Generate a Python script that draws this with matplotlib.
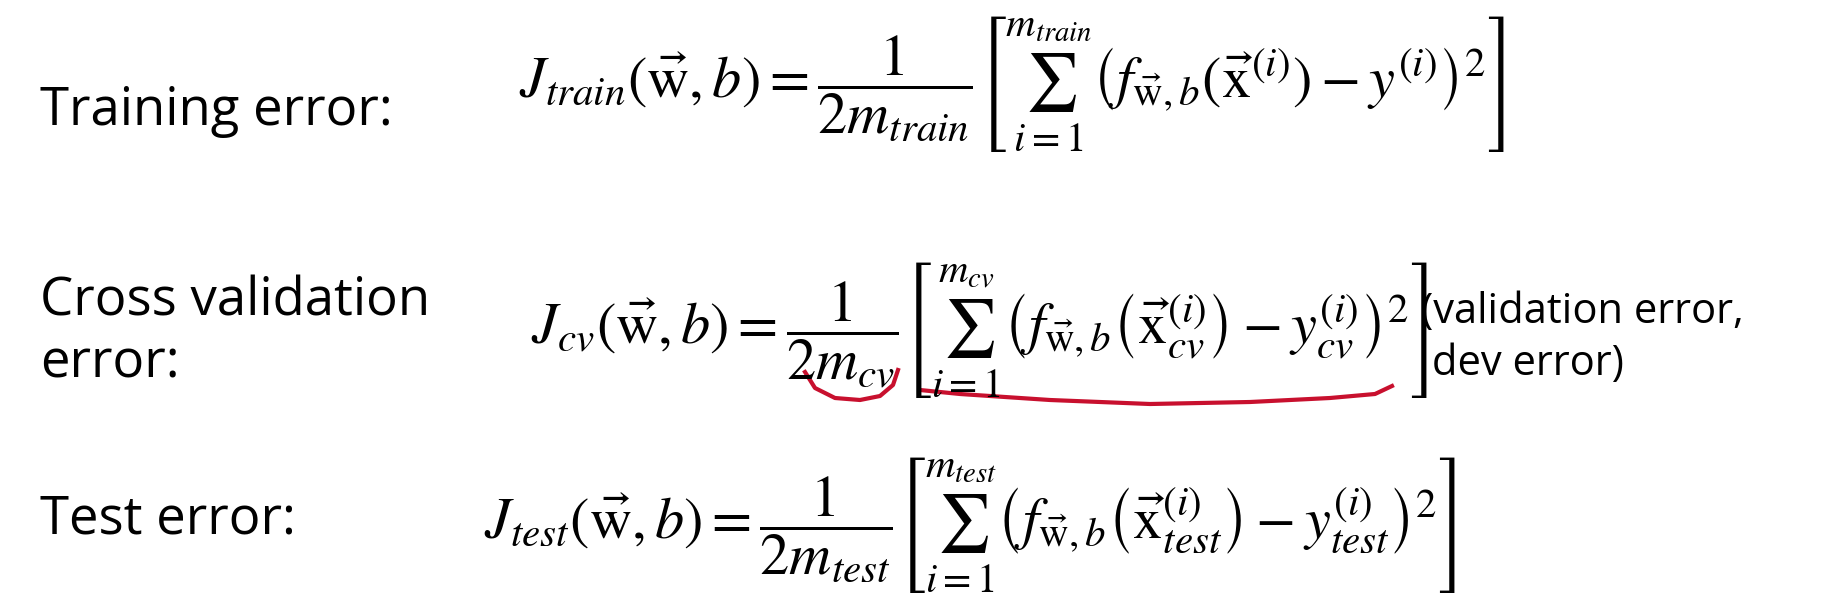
import matplotlib
matplotlib.use("Agg")
import matplotlib.pyplot as plt
import numpy as np

plt.rcParams['mathtext.fontset'] = 'stix'

labels = ["Training error:", "Cross validation\nerror:", "Test error:"]
formulas = [
    r"$J_{train}(\vec{\mathrm{w}},b)=\dfrac{1}{2m_{train}}\left[\sum_{i=1}^{m_{train}}\left(f_{\vec{\mathrm{w}},b}\left(\vec{\mathrm{x}}^{(i)}\right)-y^{(i)}\right)^2\right]$",
    r"$J_{cv}(\vec{\mathrm{w}},b)=\dfrac{1}{2m_{cv}}\left[\sum_{i=1}^{m_{cv}}\left(f_{\vec{\mathrm{w}},b}\left(\vec{\mathrm{x}}_{cv}^{(i)}\right)-y_{cv}^{(i)}\right)^2\right]$",
    r"$J_{test}(\vec{\mathrm{w}},b)=\dfrac{1}{2m_{test}}\left[\sum_{i=1}^{m_{test}}\left(f_{\vec{\mathrm{w}},b}\left(\vec{\mathrm{x}}_{test}^{(i)}\right)-y_{test}^{(i)}\right)^2\right]$",
]
note = "(validation error,\n dev error)"

# hand-drawn red underline strokes (pixel coords)
stroke1_x = [805, 815, 835, 860, 880, 893, 898]
stroke1_y = [372, 388, 398, 400, 396, 385, 370]
stroke2_x = [920, 960, 1050, 1150, 1250, 1330, 1375, 1392]
stroke2_y = [390, 394, 400, 404, 402, 398, 394, 386]

fig = plt.figure(figsize=(18.3, 6.08), dpi=100)
ax = fig.add_axes([0, 0, 1, 1])
ax.set_xlim(0, 1830)
ax.set_ylim(608, 0)
ax.axis("off")

label_pos = [(40, 111), (40, 333), (40, 520)]
formula_pos = [(519, 84), (531, 330), (484, 525)]
for (lx, ly), lab in zip(label_pos, labels):
    ax.text(lx, ly, lab, fontsize=38, family="Open Sans", va="center", ha="left",
            linespacing=1.2)
for (fx, fy), f in zip(formula_pos, formulas):
    ax.text(fx, fy, f, fontsize=42, va="center", ha="left")
ax.text(1421, 338, note, fontsize=30, family="Open Sans", va="center", ha="left",
        linespacing=1.3)

ax.plot(stroke1_x, stroke1_y, color="#c8102e", lw=3)
ax.plot(stroke2_x, stroke2_y, color="#c8102e", lw=3)

fig.savefig("out.png", dpi=100, facecolor="white")
